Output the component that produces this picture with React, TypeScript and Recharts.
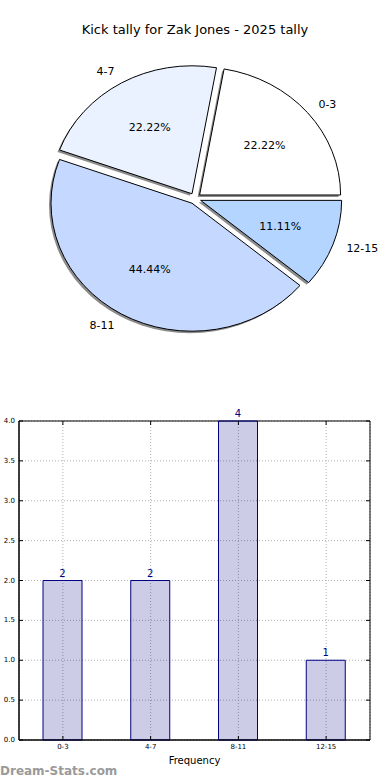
import React from "react";
import {
  PieChart,
  Pie,
  Sector,
  BarChart,
  Bar,
  XAxis,
  YAxis,
  CartesianGrid,
  LabelList,
  ReferenceArea,
} from "recharts";

const categories = ["0-3", "4-7", "8-11", "12-15"];
const counts = [2, 2, 4, 1];
const sliceColors = ["#ffffff", "#eaf1ff", "#c5d8ff", "#b3d5ff"];
const yTicks = [0, 0.5, 1, 1.5, 2, 2.5, 3, 3.5, 4];

const total = counts.reduce((a, b) => a + b, 0);
const data = categories.map((name, i) => ({ name, value: counts[i] }));

const FONT = "'DejaVu Sans', sans-serif";
// the reference pie is squashed a little vertically
const RX = 141;
const RY = 128;
const EXPLODE = 6;
const RAD = Math.PI / 180;

const BAR_MARGIN = { top: 31, right: 20, bottom: 0, left: 0 };
const CHART_W = 390;
const CHART_H = 390;
const PLOT_RIGHT = CHART_W - BAR_MARGIN.right;
const PLOT_TOP = BAR_MARGIN.top;
const TICK_LEN = 4;

const wedge = (shadow: boolean) => (props: any) => {
  const { cx, cy, startAngle, endAngle, outerRadius } = props;
  const mid = props.midAngle ?? (startAngle + endAngle) / 2;
  const name = props.name ?? props.payload?.name;
  const i = categories.indexOf(name);
  const k = RY / RX;
  const cos = Math.cos(mid * RAD);
  const sin = Math.sin(mid * RAD);
  const ex = cx + EXPLODE * cos + (shadow ? -2 : 0);
  const ey = cy - EXPLODE * k * sin + (shadow ? 2 : 0);
  const pct = ((counts[i] / total) * 100).toFixed(2) + "%";
  return (
    <g>
      <g transform={`translate(${ex},${ey}) scale(1,${k})`}>
        <Sector
          cx={0}
          cy={0}
          innerRadius={0}
          outerRadius={outerRadius}
          startAngle={startAngle}
          endAngle={endAngle}
          fill={shadow ? "#8c8c8c" : sliceColors[i]}
          stroke={shadow ? "none" : "#000"}
          strokeWidth={1}
          vectorEffect="non-scaling-stroke"
        />
      </g>
      {!shadow && (
        <>
          <text
            x={ex + 1.1 * RX * cos}
            y={ey - 1.1 * RY * sin}
            textAnchor={cos > 0 ? "start" : "end"}
            dominantBaseline="central"
            fontSize={11}
            fontFamily={FONT}
            fill="#000"
          >
            {name}
          </text>
          <text
            x={ex + 0.6 * RX * cos}
            y={ey - 0.6 * RY * sin}
            textAnchor="middle"
            dominantBaseline="central"
            fontSize={11}
            fontFamily={FONT}
            fill="#000"
          >
            {pct}
          </text>
        </>
      )}
    </g>
  );
};

const shadowShape = wedge(true);
const mainShape = wedge(false);

// matplotlib-style inward ticks on both sides of the frame
const YTick = (props: any) => {
  const { x, y, payload } = props;
  const axisX = x + TICK_LEN;
  return (
    <g>
      <line x1={axisX} x2={axisX + TICK_LEN} y1={y} y2={y} stroke="#000" />
      <line x1={PLOT_RIGHT - TICK_LEN} x2={PLOT_RIGHT} y1={y} y2={y} stroke="#000" />
      <text
        x={x}
        y={y}
        textAnchor="end"
        dominantBaseline="central"
        fontSize={7}
        fontFamily={FONT}
        fill="#000"
      >
        {Number(payload.value).toFixed(1)}
      </text>
    </g>
  );
};

const XTick = (props: any) => {
  const { x, y, payload } = props;
  const axisY = y - TICK_LEN;
  return (
    <g>
      <line x1={x} x2={x} y1={axisY} y2={axisY - TICK_LEN} stroke="#000" />
      <line x1={x} x2={x} y1={PLOT_TOP} y2={PLOT_TOP + TICK_LEN} stroke="#000" />
      <text
        x={x}
        y={y + 5}
        textAnchor="middle"
        fontSize={7}
        fontFamily={FONT}
        fill="#000"
      >
        {payload.value}
      </text>
    </g>
  );
};

export default function App() {
  return (
    <div
      style={{
        position: "absolute",
        left: 0,
        top: 0,
        width: 390,
        height: 780,
        background: "#fff",
        fontFamily: FONT,
      }}
    >
      <div
        style={{
          position: "absolute",
          top: 22,
          width: 390,
          textAlign: "center",
          fontSize: 13,
          lineHeight: "16px",
        }}
      >
        Kick tally for Zak Jones - 2025 tally
      </div>

      <div style={{ position: "absolute", left: 0, top: 0 }}>
        <PieChart width={390} height={390} margin={{ top: 0, right: 0, bottom: 0, left: 0 }}>
          <Pie
            data={data}
            dataKey="value"
            nameKey="name"
            cx={195}
            cy={198.5}
            outerRadius={RX}
            startAngle={0}
            endAngle={360}
            stroke="none"
            isAnimationActive={false}
            shape={shadowShape}
            activeShape={shadowShape}
            inactiveShape={shadowShape}
          />
          <Pie
            data={data}
            dataKey="value"
            nameKey="name"
            cx={195}
            cy={198.5}
            outerRadius={RX}
            startAngle={0}
            endAngle={360}
            isAnimationActive={false}
            shape={mainShape}
            activeShape={mainShape}
            inactiveShape={mainShape}
          />
        </PieChart>
      </div>

      <div style={{ position: "absolute", left: 0, top: 390 }}>
        <BarChart
          width={CHART_W}
          height={CHART_H}
          data={data}
          margin={BAR_MARGIN}
          barCategoryGap={0}
        >
          <CartesianGrid stroke="#b0b0b0" strokeDasharray="1 2" />
          <XAxis
            dataKey="name"
            height={40}
            tick={<XTick />}
            tickLine={false}
            tickSize={4}
            tickMargin={0}
            axisLine={{ stroke: "#000" }}
            label={{
              value: "Frequency",
              position: "insideBottom",
              offset: 16,
              fontSize: 10,
              fill: "#000",
              fontFamily: FONT,
            }}
          />
          <YAxis
            domain={[0, 4]}
            ticks={yTicks}
            width={19}
            tick={<YTick />}
            tickLine={false}
            tickSize={4}
            tickMargin={0}
            axisLine={{ stroke: "#000" }}
          />
          <ReferenceArea
            y1={0}
            y2={4}
            fill="none"
            stroke="#000"
            strokeWidth={1}
            ifOverflow="visible"
          />
          <Bar
            dataKey="value"
            barSize={39}
            fill="#000080"
            fillOpacity={0.2}
            stroke="#000080"
            isAnimationActive={false}
          >
            <LabelList
              dataKey="value"
              position="top"
              offset={4}
              fill="#000080"
              fontSize={10}
              fontFamily={FONT}
            />
          </Bar>
        </BarChart>
      </div>

      <div
        style={{
          position: "absolute",
          left: 0,
          top: 763,
          fontSize: 12,
          fontWeight: "bold",
          color: "#9a9a9a",
          lineHeight: "16px",
        }}
      >
        Dream-Stats.com
      </div>
    </div>
  );
}
